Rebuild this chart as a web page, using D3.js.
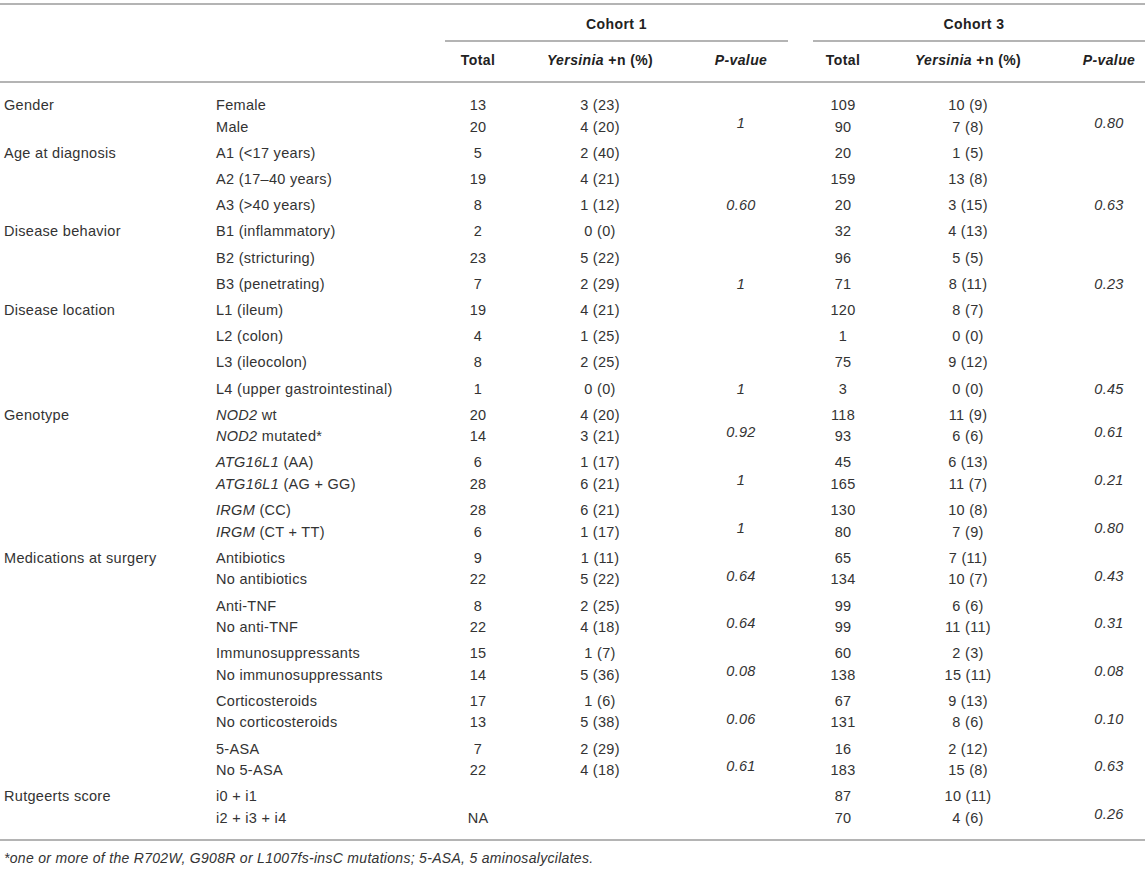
<!DOCTYPE html>
<html>
<head>
<meta charset="utf-8">
<script src="https://cdn.jsdelivr.net/npm/d3@7/dist/d3.min.js"></script>
<style>
  body { margin: 0; background: #fff; }
  svg text { font-family: "Liberation Sans", Arial, Helvetica, sans-serif; font-size: 14.5px; letter-spacing: 0.3px; fill: #333; }
  .head { font-weight: bold; font-size: 14px; letter-spacing: 0.4px; fill: #222; }
  .rule { stroke: #b4b4b4; stroke-width: 2; }
  .foot { font-size: 14px; font-style: italic; }
</style>
</head>
<body>
<svg id="tbl" width="1145" height="869"></svg>
<script>
// one entry per table row; rows with two lines hold two strings
// _text_ marks italic parts
const groupLabels = ['Gender', 'Age at diagnosis', '', '', 'Disease behavior', '', '', 'Disease location', '', '', '',
  'Genotype', '', '', 'Medications at surgery', '', '', '', '', 'Rutgeerts score'];

const rowLabels = [
  ['Female', 'Male'],
  ['A1 (<17 years)'], ['A2 (17–40 years)'], ['A3 (>40 years)'],
  ['B1 (inflammatory)'], ['B2 (stricturing)'], ['B3 (penetrating)'],
  ['L1 (ileum)'], ['L2 (colon)'], ['L3 (ileocolon)'], ['L4 (upper gastrointestinal)'],
  ['_NOD2_ wt', '_NOD2_ mutated*'],
  ['_ATG16L1_ (AA)', '_ATG16L1_ (AG + GG)'],
  ['_IRGM_ (CC)', '_IRGM_ (CT + TT)'],
  ['Antibiotics', 'No antibiotics'],
  ['Anti-TNF', 'No anti-TNF'],
  ['Immunosuppressants', 'No immunosuppressants'],
  ['Corticosteroids', 'No corticosteroids'],
  ['5-ASA', 'No 5-ASA'],
  ['i0 + i1', 'i2 + i3 + i4']
];

const c1Total = [['13', '20'], ['5'], ['19'], ['8'], ['2'], ['23'], ['7'], ['19'], ['4'], ['8'], ['1'],
  ['20', '14'], ['6', '28'], ['28', '6'], ['9', '22'], ['8', '22'], ['15', '14'], ['17', '13'], ['7', '22'], ['', 'NA']];
const c1Yers = [['3 (23)', '4 (20)'], ['2 (40)'], ['4 (21)'], ['1 (12)'], ['0 (0)'], ['5 (22)'], ['2 (29)'],
  ['4 (21)'], ['1 (25)'], ['2 (25)'], ['0 (0)'], ['4 (20)', '3 (21)'], ['1 (17)', '6 (21)'], ['6 (21)', '1 (17)'],
  ['1 (11)', '5 (22)'], ['2 (25)', '4 (18)'], ['1 (7)', '5 (36)'], ['1 (6)', '5 (38)'], ['2 (29)', '4 (18)'], ['', '']];
const c1P = ['1', '', '', '0.60', '', '', '1', '', '', '', '1', '0.92', '1', '1', '0.64', '0.64', '0.08', '0.06', '0.61', ''];

const c3Total = [['109', '90'], ['20'], ['159'], ['20'], ['32'], ['96'], ['71'], ['120'], ['1'], ['75'], ['3'],
  ['118', '93'], ['45', '165'], ['130', '80'], ['65', '134'], ['99', '99'], ['60', '138'], ['67', '131'], ['16', '183'], ['87', '70']];
const c3Yers = [['10 (9)', '7 (8)'], ['1 (5)'], ['13 (8)'], ['3 (15)'], ['4 (13)'], ['5 (5)'], ['8 (11)'],
  ['8 (7)'], ['0 (0)'], ['9 (12)'], ['0 (0)'], ['11 (9)', '6 (6)'], ['6 (13)', '11 (7)'], ['10 (8)', '7 (9)'],
  ['7 (11)', '10 (7)'], ['6 (6)', '11 (11)'], ['2 (3)', '15 (11)'], ['9 (13)', '8 (6)'], ['2 (12)', '15 (8)'], ['10 (11)', '4 (6)']];
const c3P = ['0.80', '', '', '0.63', '', '', '0.23', '', '', '', '0.45', '0.61', '0.21', '0.80', '0.43', '0.31', '0.08', '0.10', '0.63', '0.26'];

const cohorts = ['Cohort 1', 'Cohort 3'];
const colHeads = ['Total', '_Yersinia_ +n (%)', '_P-value_'];
const footnote = '*one or more of the R702W, G908R or L1007fs-insC mutations; 5-ASA, 5 aminosalycilates.';

const W = 1145;
const LINE = 21.5;   // line spacing inside a cell
const PITCH = 26.2;  // row pitch for a one-line row
const FIRST = 105;   // centre of first body line

const svg = d3.select('#tbl');

const colX = d3.scaleOrdinal()
  .domain(['group', 'label', 'c1Total', 'c1Yers', 'c1P', 'c3Total', 'c3Yers', 'c3P'])
  .range([4, 216, 478, 600, 741, 843, 968, 1109]);

const cohortSpan = d3.scaleOrdinal().domain(cohorts).range([[445, 788], [813, W]]);

// y of the first line of each row
const rowY = [];
rowLabels.reduce((y, r) => { rowY.push(y); return y + PITCH + (r.length - 1) * LINE; }, FIRST);

function richText(sel, str) {
  str.split('_').forEach((part, i) => {
    if (!part) return;
    sel.append('tspan').text(part).style('font-style', i % 2 ? 'italic' : null);
  });
}

function cell(x, y, str, anchor, cls) {
  const t = svg.append('text')
    .attr('x', x).attr('y', y).attr('dy', '0.35em')
    .attr('text-anchor', anchor);
  if (cls) t.attr('class', cls);
  richText(t, str);
  return t;
}

// rules
const ruleY = [4, 82, 840];
svg.selectAll('line.full').data(ruleY).enter().append('line')
  .attr('class', 'rule full').attr('x1', 0).attr('x2', W).attr('y1', d => d).attr('y2', d => d);
svg.selectAll('line.span').data(cohorts).enter().append('line')
  .attr('class', 'rule span').attr('x1', d => cohortSpan(d)[0]).attr('x2', d => cohortSpan(d)[1])
  .attr('y1', 41).attr('y2', 41);

// header
cohorts.forEach(c => {
  const [a, b] = cohortSpan(c);
  cell((a + b) / 2 + (c === 'Cohort 1' ? 0 : -5), 24, c, 'middle', 'head');
});
['c1', 'c3'].forEach(k => {
  ['Total', 'Yers', 'P'].forEach((s, i) => cell(colX(k + s), 60, colHeads[i], 'middle', 'head'));
});

// body
rowLabels.forEach((lines, r) => {
  const y0 = rowY[r];
  if (groupLabels[r]) cell(colX('group'), y0, groupLabels[r], 'start');
  lines.forEach((s, j) => cell(colX('label'), y0 + j * LINE, s, 'start'));
  [['c1Total', c1Total], ['c1Yers', c1Yers], ['c3Total', c3Total], ['c3Yers', c3Yers]].forEach(([k, arr]) => {
    arr[r].forEach((s, j) => { if (s) cell(colX(k), y0 + j * LINE, s, 'middle'); });
  });
  const pY = y0 + (lines.length - 1) * LINE * 0.82;
  if (c1P[r]) cell(colX('c1P'), pY, c1P[r], 'middle').style('font-style', 'italic');
  if (c3P[r]) cell(colX('c3P'), pY, c3P[r], 'middle').style('font-style', 'italic');
});

cell(4, 858, footnote, 'start', 'foot');
</script>
</body>
</html>
